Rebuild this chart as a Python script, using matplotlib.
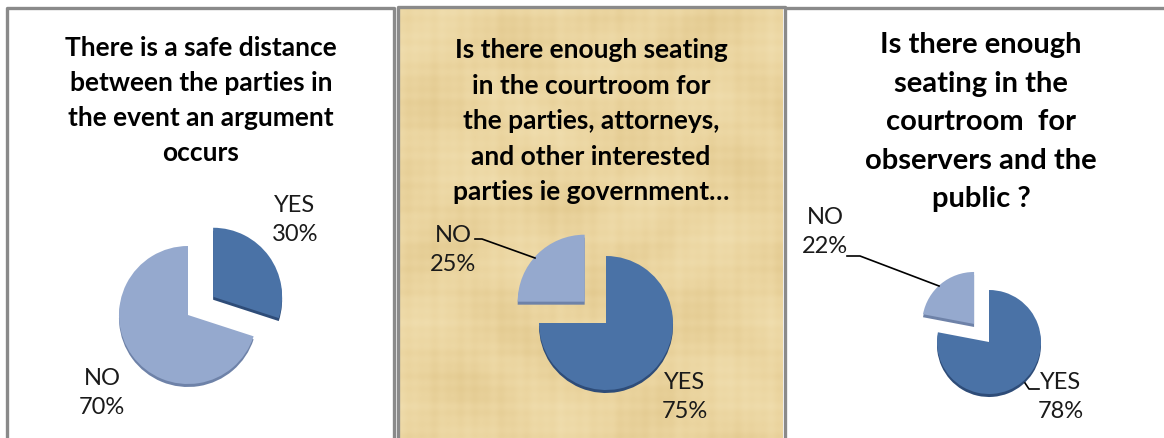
import numpy as np
import matplotlib
matplotlib.use('Agg')
import matplotlib.pyplot as plt
from matplotlib.colors import LinearSegmentedColormap

W, H = 1164, 438

# survey answers, one pie per question
answers = ['YES', 'NO']
distance_pct = [30, 70]
parties_seating_pct = [75, 25]
public_seating_pct = [78, 22]

title_distance = 'There is a safe distance\nbetween the parties in\nthe event an argument\noccurs'
title_parties = ('Is there enough seating\nin the courtroom for\nthe parties, attorneys,\n'
                 'and other interested\nparties ie government\u2026')
title_public = 'Is there enough\nseating in the\ncourtroom  for\nobservers and the\npublic ?'

dark_blue = '#4A72A6'
light_blue = '#95A9CE'
dark_rim = '#2E4C78'
light_rim = '#6E82A8'
border = '#8A8A8A'

plt.rcParams['font.family'] = ['Lato', 'DejaVu Sans']

fig = plt.figure(figsize=(W / 100, H / 100), dpi=100)
ax = fig.add_axes([0, 0, 1, 1])


def Y(y):
    # work in pixel rows from the top
    return H - y


# papyrus backdrop behind the middle chart: crossed fibres plus a soft mottle
px, py = np.meshgrid(np.arange(384), np.arange(429))
fibres_h = (np.sin(py / 1.9) * 0.5 + np.sin(py / 3.3 + 1.0) * 0.4 + np.sin(py / 7.1 + 2.0) * 0.3)
fibres_v = (np.sin(px / 2.1 + 0.5) * 0.5 + np.sin(px / 3.7 + 1.7) * 0.4 + np.sin(px / 6.3) * 0.3)
mottle = np.sin(px / 29.0 + np.sin(py / 37.0)) * np.sin(py / 23.0 + np.sin(px / 41.0))
weave = 0.5 + 0.06 * fibres_h + 0.06 * fibres_v + 0.16 * mottle
papyrus = LinearSegmentedColormap.from_list('papyrus', ['#DEC386', '#EBD5A0', '#F3E3B7'])
ax.imshow(weave, cmap=papyrus, extent=(399, 783, Y(438), Y(9)), zorder=0,
          interpolation='bilinear', vmin=0.05, vmax=0.95)


def draw_pie(values, center, radius, explode):
    cx, cy = center
    offsets = [e * radius for e in explode]
    # darker copy underneath gives the slices a thin edge
    ax.pie(values, colors=[dark_rim, light_rim], startangle=90, counterclock=False,
           center=(cx, Y(cy) - 3), radius=radius, explode=offsets,
           wedgeprops=dict(linewidth=0, zorder=2), frame=True)
    ax.pie(values, colors=[dark_blue, light_blue], startangle=90, counterclock=False,
           center=(cx, Y(cy)), radius=radius, explode=offsets,
           wedgeprops=dict(linewidth=0, zorder=3), frame=True)


def pct_label(i, values, x, y):
    ax.text(x, Y(y), f'{answers[i]}\n{values[i]}%', ha='center', va='center',
            fontsize=17, color='#1a1a1a', linespacing=1.5, zorder=5)


# panel 1
draw_pie(distance_pct, (188, 315), 69, [0.45, 0])
ax.text(201, Y(36), title_distance, ha='center', va='top', fontsize=19,
        fontweight='bold', linespacing=1.55, zorder=5)
pct_label(0, distance_pct, 295, 220)
pct_label(1, distance_pct, 102, 393)

# panel 2
draw_pie(parties_seating_pct, (606, 323), 67, [0, 0.45])
ax.text(591, Y(38), title_parties, ha='center', va='top', fontsize=19,
        fontweight='bold', linespacing=1.58, zorder=5)
pct_label(1, parties_seating_pct, 453, 250)
pct_label(0, parties_seating_pct, 685, 397)
ax.plot([475, 482, 535], [Y(239), Y(239), Y(258)], color='black', lw=1.2, zorder=4)

# panel 3
draw_pie(public_seating_pct, (989, 342), 52, [0, 0.45])
ax.text(981, Y(32), title_public, ha='center', va='top', fontsize=21,
        fontweight='bold', linespacing=1.6, zorder=5)
pct_label(1, public_seating_pct, 825, 232)
pct_label(0, public_seating_pct, 1061, 397)
ax.plot([847, 860, 939], [Y(256), Y(256), Y(286)], color='black', lw=1.2, zorder=4)
ax.plot([1025, 1029, 1039], [Y(383), Y(389), Y(389)], color='black', lw=1.2, zorder=4)

# panel frames, open at the bottom
frame_kw = dict(color=border, lw=2.4, solid_capstyle='butt', zorder=6)
ax.plot([6.5, 6.5, 393.5, 393.5], [Y(438), Y(7.5), Y(7.5), Y(438)], **frame_kw)
ax.plot([397.5, 397.5, 785, 785], [Y(438), Y(7), Y(7), Y(438)], **frame_kw)
ax.plot([785, W], [Y(8), Y(8)], **frame_kw)

ax.set_xlim(0, W)
ax.set_ylim(0, H)
ax.set_aspect('auto')
ax.axis('off')

fig.savefig('out.png', dpi=100, facecolor='white')
